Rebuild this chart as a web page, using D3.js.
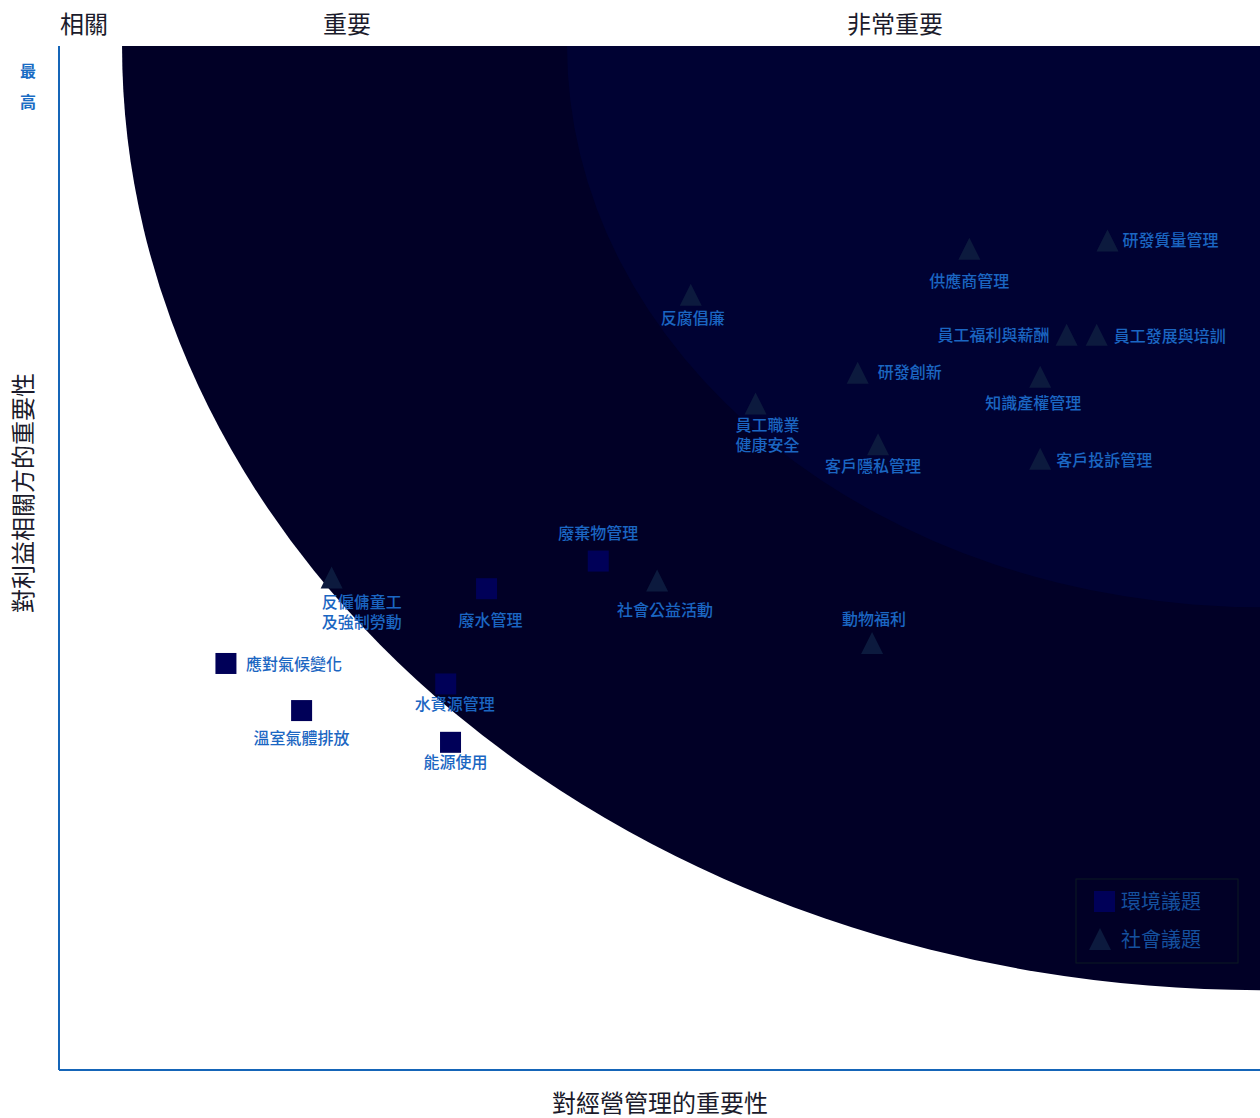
<!DOCTYPE html>
<html>
<head>
<meta charset="utf-8">
<script src="https://cdn.jsdelivr.net/npm/d3@7"></script>
<style>
  body { margin: 0; background: #fff; }
  svg { display: block; font-family: "Noto Sans CJK TC", "Noto Sans CJK SC", sans-serif; }
</style>
</head>
<body>
<svg id="chart"></svg>
<script>
// Environmental topics (squares): [x = importance to management, y = importance to stakeholders]
const envTopics = ["應對氣候變化", "溫室氣體排放", "廢水管理", "廢棄物管理", "水資源管理", "能源使用"];
const envX = [13.9, 20.2, 35.6, 44.9, 32.2, 32.6];
const envY = [39.7, 35.1, 47.0, 49.7, 37.7, 32.0];

// Social topics (triangles)
const socTopics = ["反僱傭童工\n及強制勞動", "社會公益活動", "動物福利", "反腐倡廉", "員工職業\n健康安全",
  "客戶隱私管理", "研發創新", "供應商管理", "研發質量管理", "員工福利與薪酬", "員工發展與培訓",
  "知識產權管理", "客戶投訴管理"];
const socX = [22.7, 49.8, 67.7, 52.6, 58.0, 68.2, 66.5, 75.8, 87.3, 83.9, 86.4, 81.7, 81.7];
const socY = [48.1, 47.8, 41.7, 75.7, 65.1, 61.1, 68.1, 80.2, 81.0, 71.8, 71.8, 67.7, 59.7];

// materiality zones (quarter ellipses around the top-right corner)
const zoneNames = ["重要", "非常重要"];
const zoneRx = [94.75, 57.7];
const zoneRy = [92.2, 54.8];

const legendNames = ["環境議題", "社會議題"];

// label placement around each marker: [dx, dy, anchor]
const labelPos = {
  "應對氣候變化": [20, 2, "start"],
  "溫室氣體排放": [0, 28, "middle"],
  "廢水管理": [4, 32, "middle"],
  "廢棄物管理": [0, -27, "middle"],
  "水資源管理": [9, 21, "middle"],
  "能源使用": [5, 21, "middle"],
  "反僱傭童工\n及強制勞動": [-10, 26, "start"],
  "社會公益活動": [8, 30, "middle"],
  "動物福利": [2, -23, "middle"],
  "反腐倡廉": [2, 24, "middle"],
  "員工職業\n健康安全": [12, 23, "middle"],
  "客戶隱私管理": [-5, 23, "middle"],
  "研發創新": [20, 0, "start"],
  "供應商管理": [0, 33, "middle"],
  "研發質量管理": [15, 0, "start"],
  "員工福利與薪酬": [-17, 1, "end"],
  "員工發展與培訓": [17, 2, "start"],
  "知識產權管理": [-7, 27, "middle"],
  "客戶投訴管理": [16, 2, "start"]
};

const W = 1260, H = 1118;
const margin = { top: 46, right: 0, bottom: 48, left: 59 };

const svg = d3.select("#chart").attr("width", W).attr("height", H);

const x = d3.scaleLinear().domain([0, 100]).range([margin.left, W - margin.right]);
const y = d3.scaleLinear().domain([0, 100]).range([H - margin.bottom, margin.top]);

const labelColor = "#1b66c2";
const axisColor = "#1565b8";
const squareFill = "#000058";
const triFill = "#0c1a3e";
const shift = -2; // nudge for central baseline of CJK glyphs

svg.append("clipPath").attr("id", "plot-clip")
  .append("rect")
  .attr("x", x(0)).attr("y", y(100))
  .attr("width", x(100) - x(0)).attr("height", y(0) - y(100));

// zones
const zoneColors = ["#010026", "#000233"];
svg.append("g").attr("clip-path", "url(#plot-clip)")
  .selectAll("ellipse")
  .data(zoneNames)
  .join("ellipse")
  .attr("cx", x(100))
  .attr("cy", y(100))
  .attr("rx", (d, i) => x(100) - x(100 - zoneRx[i]))
  .attr("ry", (d, i) => y(100 - zoneRy[i]) - y(100))
  .attr("fill", (d, i) => zoneColors[i]);

// axes (plain lines)
svg.append("line")
  .attr("x1", x(0)).attr("x2", x(0)).attr("y1", y(100)).attr("y2", y(0))
  .attr("stroke", axisColor).attr("stroke-width", 2);
svg.append("line")
  .attr("x1", x(0)).attr("x2", x(100)).attr("y1", y(0)).attr("y2", y(0))
  .attr("stroke", axisColor).attr("stroke-width", 2);

// header row
svg.append("text").attr("x", 84).attr("y", 24 + shift)
  .attr("text-anchor", "middle").attr("dominant-baseline", "central")
  .attr("font-size", 24).attr("fill", "#1b1b2b").text("相關");
svg.selectAll(".zone-title")
  .data(zoneNames)
  .join("text")
  .attr("class", "zone-title")
  .attr("x", (d, i) => i === 0 ? 347 : 895)
  .attr("y", 24 + shift)
  .attr("text-anchor", "middle").attr("dominant-baseline", "central")
  .attr("font-size", 24).attr("fill", "#1b1b2b")
  .text(d => d);

// "最高" marker on the y axis
svg.selectAll(".top-mark")
  .data(["最", "高"])
  .join("text")
  .attr("class", "top-mark")
  .attr("x", 28).attr("y", (d, i) => 72 + shift + i * 31)
  .attr("text-anchor", "middle").attr("dominant-baseline", "central")
  .attr("font-size", 16).attr("font-weight", 700).attr("fill", "#1a6cc4")
  .text(d => d);

// axis titles
svg.append("text")
  .attr("transform", `translate(21,${(y(0) + y(100)) / 2 - 65}) rotate(-90)`)
  .attr("text-anchor", "middle").attr("dominant-baseline", "central")
  .attr("font-size", 24).attr("fill", "#1b1b2b")
  .text("對利益相關方的重要性");
svg.append("text")
  .attr("x", 660).attr("y", 1103 + shift)
  .attr("text-anchor", "middle").attr("dominant-baseline", "central")
  .attr("font-size", 24).attr("fill", "#1b1b2b")
  .text("對經營管理的重要性");

const sq = 21;
const triPath = (cx, cy, s) =>
  `M${cx},${cy - s / 2}L${cx + s / 2},${cy + s / 2}L${cx - s / 2},${cy + s / 2}Z`;

const envData = envTopics.map((name, i) => ({ name, x: envX[i], y: envY[i] }));
const socData = socTopics.map((name, i) => ({ name, x: socX[i], y: socY[i] }));

svg.append("g").selectAll("rect")
  .data(envData)
  .join("rect")
  .attr("x", d => x(d.x) - sq / 2)
  .attr("y", d => y(d.y) - sq / 2)
  .attr("width", sq).attr("height", sq)
  .attr("fill", squareFill);

svg.append("g").selectAll("path")
  .data(socData)
  .join("path")
  .attr("d", d => triPath(x(d.x), y(d.y), 22))
  .attr("fill", triFill);

// labels
const labels = svg.append("g").selectAll("text")
  .data(envData.concat(socData))
  .join("text")
  .attr("font-size", 16)
  .attr("font-weight", 500)
  .attr("fill", labelColor)
  .attr("dominant-baseline", "central")
  .attr("text-anchor", d => labelPos[d.name][2]);

labels.each(function (d) {
  const [dx, dy] = labelPos[d.name];
  d3.select(this).selectAll("tspan")
    .data(d.name.split("\n"))
    .join("tspan")
    .attr("x", x(d.x) + dx)
    .attr("y", (t, i) => y(d.y) + dy + shift + i * 20)
    .text(t => t);
});

// legend
const legend = svg.append("g").attr("transform", "translate(1076,879)");
legend.append("rect")
  .attr("width", 162).attr("height", 84)
  .attr("fill", "none").attr("stroke", "#0c1a22").attr("stroke-width", 1);
legend.append("rect")
  .attr("x", 18).attr("y", 12).attr("width", sq).attr("height", sq)
  .attr("fill", squareFill);
legend.append("path")
  .attr("d", triPath(24, 60, 22))
  .attr("fill", triFill);
legend.selectAll(".legend-text")
  .data(legendNames)
  .join("text")
  .attr("class", "legend-text")
  .attr("x", 45).attr("y", (d, i) => 23 + shift + i * 38)
  .attr("dominant-baseline", "central")
  .attr("font-size", 20).attr("fill", "#15509e")
  .text(d => d);
</script>
</body>
</html>
